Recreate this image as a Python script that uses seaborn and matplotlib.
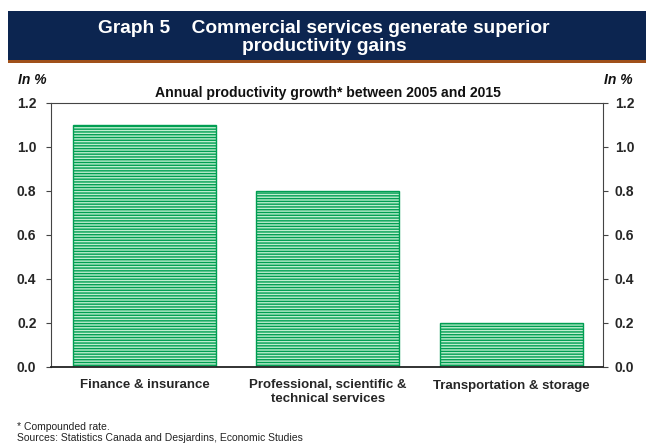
import matplotlib
matplotlib.use("Agg")
import matplotlib.pyplot as plt
from matplotlib.patches import Rectangle
from matplotlib.ticker import FormatStrFormatter
import pandas as pd
import seaborn as sns

# Data
categories = ["Finance & insurance",
              "Professional, scientific &\ntechnical services",
              "Transportation & storage"]
growth = [1.1, 0.8, 0.2]
yticks = [0.0, 0.2, 0.4, 0.6, 0.8, 1.0, 1.2]

df = pd.DataFrame({"sector": categories, "growth": growth})

sns.set_style("white")
plt.rcParams['font.family'] = ['Liberation Sans', 'DejaVu Sans']
plt.rcParams['hatch.linewidth'] = 1.0
plt.rcParams['text.color'] = '#111111'

fig = plt.figure(figsize=(6.46, 4.45), dpi=100)
W, H = 646.0, 445.0

# header band
fig.patches.append(Rectangle((8 / W, 1 - 60 / H), 1, 49 / H, transform=fig.transFigure,
                             facecolor="#0c2550", edgecolor="none", zorder=0))
fig.patches.append(Rectangle((8 / W, 1 - 63 / H), 1, 3 / H, transform=fig.transFigure,
                             facecolor="#a0501a", edgecolor="none", zorder=0))
fig.text(324 / W, 1 - 37.5 / H, "Graph 5    Commercial services generate superior\nproductivity gains",
         ha="center", va="center", color="white", fontsize=13.8, fontweight="bold",
         linespacing=1.08)

ax = fig.add_axes([51 / W, 78 / H, 552 / W, 264 / H])
sns.barplot(data=df, x="sector", y="growth", ax=ax, width=0.78,
            color="#bdeecf", saturation=1)
for p in ax.patches:
    p.set_hatch("------")
    p.set_edgecolor("#009e52")
    p.set_linewidth(1.0)

ax.set_xlim(-0.51, 2.50)
ax.set_ylim(0, 1.2)
ax.set_yticks(yticks)
ax.yaxis.set_major_formatter(FormatStrFormatter("%.1f"))
ax.set_xlabel("")
ax.set_ylabel("")
ax.tick_params(axis="y", direction="out", length=3.5, width=0.8, color="#444444",
               labelsize=10, pad=7, left=True)
ax.tick_params(axis="x", length=0, labelsize=9.5, pad=9)
for lbl in ax.get_yticklabels() + ax.get_xticklabels():
    lbl.set_fontweight("bold")
for lbl in ax.get_xticklabels():
    lbl.set_linespacing(1.15)

for side in ["left", "right", "top"]:
    ax.spines[side].set_color("#444444")
    ax.spines[side].set_linewidth(0.8)
ax.spines["bottom"].set_color("#222222")
ax.spines["bottom"].set_linewidth(1.3)

ax2 = ax.twinx()
ax2.set_ylim(0, 1.2)
ax2.set_yticks(yticks)
ax2.yaxis.set_major_formatter(FormatStrFormatter("%.1f"))
ax2.tick_params(axis="y", direction="out", length=3.5, width=0.8, color="#444444",
                labelsize=10, pad=5, right=True)
for lbl in ax2.get_yticklabels():
    lbl.set_fontweight("bold")
for s in ax2.spines.values():
    s.set_visible(False)

fig.text(18 / W, 1 - 80 / H, "In %", ha="left", va="center", fontsize=10,
         fontweight="bold", style="italic")
fig.text(633 / W, 1 - 80 / H, "In %", ha="right", va="center", fontsize=10,
         fontweight="bold", style="italic")
fig.text(328 / W, 1 - 93 / H, "Annual productivity growth* between 2005 and 2015",
         ha="center", va="center", fontsize=10.1, fontweight="bold")

fig.text(17 / W, 1 - 427 / H, "* Compounded rate.", ha="left", va="center",
         fontsize=7.5, color="#222222")
fig.text(17 / W, 1 - 438 / H, "Sources: Statistics Canada and Desjardins, Economic Studies",
         ha="left", va="center", fontsize=7.5, color="#222222")

fig.savefig("out.png", dpi=100)
